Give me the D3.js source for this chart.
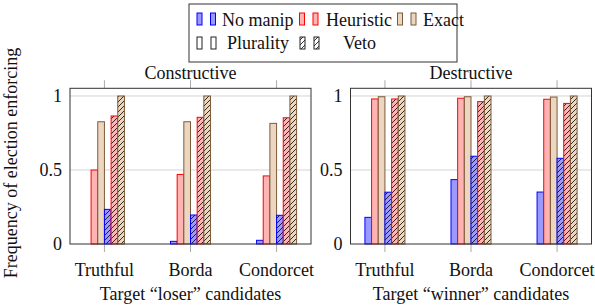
<!DOCTYPE html>
<html>
<head>
<meta charset="utf-8">
<script src="https://cdn.jsdelivr.net/npm/d3@7"></script>
<style>
  body { margin: 0; background: #fff; }
</style>
</head>
<body>
<div id="chart"></div>
<script>
const categories = ['Truthful', 'Borda', 'Condorcet']
const yTicks = [0, 0.5, 1]
const yTickLabels = ['0', '0.5', '1']

// constructive (target "loser")
const conNoManipPlurality = [0, 0.018, 0.025]
const conHeuristicPlurality = [0.5, 0.47, 0.46]
const conExactPlurality = [0.826, 0.826, 0.815]
const conNoManipVeto = [0.234, 0.196, 0.194]
const conHeuristicVeto = [0.865, 0.856, 0.853]
const conExactVeto = [1, 1, 1]

// destructive (target "winner")
const desNoManipPlurality = [0.18, 0.435, 0.351]
const desHeuristicPlurality = [0.98, 0.985, 0.978]
const desExactPlurality = [0.995, 0.995, 0.993]
const desNoManipVeto = [0.35, 0.593, 0.579]
const desHeuristicVeto = [0.98, 0.962, 0.95]
const desExactVeto = [1, 1, 1]

const methods = ['No manip', 'Heuristic', 'Exact']
const rules = ['Plurality', 'Veto']

const colors = {
  'No manip': {fill: '#9999ff', stroke: '#0000ff'},
  'Heuristic': {fill: '#ffb3b3', stroke: '#ff0000'},
  'Exact': {fill: '#ecd6c0', stroke: '#7b5b3a'},
}

const panels = [
  {title: 'Constructive', xlabel: 'Target \u201closer\u201d candidates', left: 70, right: 311,
   series: [conNoManipPlurality, conHeuristicPlurality, conExactPlurality,
            conNoManipVeto, conHeuristicVeto, conExactVeto]},
  {title: 'Destructive', xlabel: 'Target \u201cwinner\u201d candidates', left: 350.5, right: 591.5,
   series: [desNoManipPlurality, desHeuristicPlurality, desExactPlurality,
            desNoManipVeto, desHeuristicVeto, desExactVeto]},
]

const W = 595, H = 308
const plotTop = 88.3, plotBottom = 244
const barW = 6.67
const fs = 18

const svg = d3.select('#chart').append('svg')
  .attr('width', W).attr('height', H)
  .attr('font-family', '"Liberation Serif", "DejaVu Serif", "Noto Serif", "Times New Roman", serif')
  .attr('fill', '#111')

const defs = svg.append('defs')
defs.append('pattern')
  .attr('id', 'hatch')
  .attr('patternUnits', 'userSpaceOnUse')
  .attr('width', 5).attr('height', 5)
  .call(p => {
    p.append('path').attr('d', 'M-1,6 L6,-1 M-1,1 L1,-1 M4,6 L6,4')
      .attr('stroke', '#000').attr('stroke-width', 0.8)
  })

const y = d3.scaleLinear().domain([0, 1.052]).range([plotBottom, plotTop])

panels.forEach(panel => {
  const x = d3.scalePoint().domain(categories).range([panel.left, panel.right]).padding(0.4)
  const g = svg.append('g')

  // grid
  g.selectAll('line.grid')
    .data(yTicks.filter(t => t > 0))
    .enter().append('line')
      .attr('x1', panel.left).attr('x2', panel.right)
      .attr('y1', d => y(d)).attr('y2', d => y(d))
      .attr('stroke', '#d4d4d4').attr('stroke-width', 1)

  // outward x ticks (top and bottom)
  categories.forEach(c => {
    g.append('line').attr('x1', x(c)).attr('x2', x(c))
      .attr('y1', plotTop - 8).attr('y2', plotTop).attr('stroke', '#aaa')
    g.append('line').attr('x1', x(c)).attr('x2', x(c))
      .attr('y1', plotBottom).attr('y2', plotBottom + 8).attr('stroke', '#aaa')
  })

  // bars
  panel.series.forEach((vals, si) => {
    const col = colors[methods[si % 3]]
    const hatched = si >= 3
    const data = categories.map((c, i) => ({c: c, v: vals[i]}))
    const bx = d => x(d.c) - 3 * barW + si * barW
    g.selectAll(null).data(data).enter().append('rect')
      .attr('x', bx).attr('width', barW)
      .attr('y', d => y(d.v)).attr('height', d => y(0) - y(d.v))
      .attr('fill', col.fill)
    if (hatched) {
      g.selectAll(null).data(data).enter().append('rect')
        .attr('x', bx).attr('width', barW)
        .attr('y', d => y(d.v)).attr('height', d => y(0) - y(d.v))
        .attr('fill', 'url(#hatch)')
    }
    g.selectAll(null).data(data).enter().append('rect')
      .attr('x', bx).attr('width', barW)
      .attr('y', d => y(d.v)).attr('height', d => y(0) - y(d.v))
      .attr('fill', 'none').attr('stroke', col.stroke).attr('stroke-width', 1)
  })

  // frame
  g.append('rect')
    .attr('x', panel.left).attr('y', plotTop)
    .attr('width', panel.right - panel.left).attr('height', plotBottom - plotTop)
    .attr('fill', 'none').attr('stroke', '#333').attr('stroke-width', 1)

  // y tick labels
  g.selectAll(null).data(yTicks).enter().append('text')
    .attr('x', panel.left - 8).attr('y', d => y(d) + 6)
    .attr('text-anchor', 'end').attr('font-size', fs)
    .text((d, i) => yTickLabels[i])

  // x tick labels
  g.selectAll(null).data(categories).enter().append('text')
    .attr('x', d => x(d)).attr('y', 276)
    .attr('text-anchor', 'middle').attr('font-size', fs)
    .text(d => d)

  g.append('text')
    .attr('x', (panel.left + panel.right) / 2).attr('y', 300)
    .attr('text-anchor', 'middle').attr('font-size', fs)
    .text(panel.xlabel)

  g.append('text')
    .attr('x', (panel.left + panel.right) / 2).attr('y', 79)
    .attr('text-anchor', 'middle').attr('font-size', fs)
    .text(panel.title)
})

// y axis label
svg.append('text')
  .attr('transform', 'translate(17,163) rotate(-90)')
  .attr('text-anchor', 'middle').attr('font-size', fs)
  .text('Frequency of election enforcing')

// legend
const legend = svg.append('g')
legend.append('rect')
  .attr('x', 189).attr('y', 4).attr('width', 268).attr('height', 58)
  .attr('fill', '#fff').attr('stroke', '#333').attr('stroke-width', 1)

const icon = (x0, y0, fill, stroke, hatched) => {
  legend.append('rect').attr('x', x0).attr('y', y0).attr('width', 5).attr('height', 12)
    .attr('fill', fill)
  if (hatched) {
    legend.append('rect').attr('x', x0).attr('y', y0).attr('width', 5).attr('height', 12)
      .attr('fill', 'url(#hatch)')
  }
  legend.append('rect').attr('x', x0).attr('y', y0).attr('width', 5).attr('height', 12)
    .attr('fill', 'none').attr('stroke', stroke).attr('stroke-width', 1)
}

const row1 = [[197, 222], [299.5, 326], [397.5, 423]]
methods.forEach((m, i) => {
  const [ix, tx] = row1[i]
  icon(ix, 13, colors[m].fill, colors[m].stroke, false)
  icon(ix + 13.5, 13, colors[m].fill, colors[m].stroke, false)
  legend.append('text').attr('x', tx).attr('y', 25.5).attr('font-size', fs).text(m)
})

const row2 = [[197, 227], [300, 343]]
rules.forEach((r, i) => {
  const [ix, tx] = row2[i]
  icon(ix, 37, '#fff', '#222', i === 1)
  icon(ix + 14, 37, '#fff', '#222', i === 1)
  legend.append('text').attr('x', tx).attr('y', 49).attr('font-size', fs).text(r)
})
</script>
</body>
</html>
